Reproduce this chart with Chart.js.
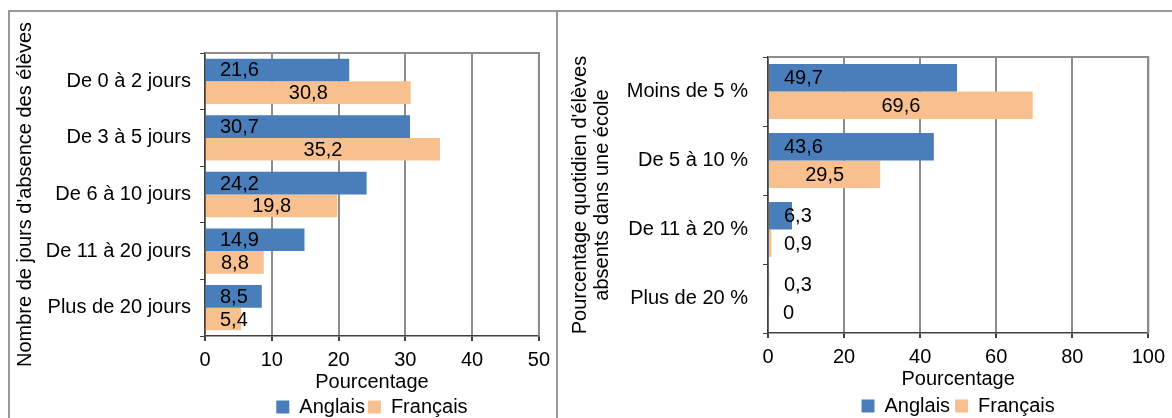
<!DOCTYPE html>
<html>
<head>
<meta charset="utf-8">
<script src="https://cdn.jsdelivr.net/npm/chart.js@4"></script>
<style>
  body { margin: 0; background: #fff; overflow: hidden; width: 1172px; height: 418px; position: relative; }
  canvas { position: absolute; top: 0; }
  #c1 { left: 0; }
  #c2 { left: 557px; }
  .frame { position: absolute; background: #999; }
</style>
</head>
<body>
<canvas id="c1" width="557" height="427"></canvas>
<canvas id="c2" width="615" height="426"></canvas>
<div class="frame" style="left:8px; top:10px; width:1164px; height:2px"></div>
<div class="frame" style="left:8px; top:10px; width:2px; height:408px"></div>
<div class="frame" style="left:556px; top:10px; width:2px; height:408px"></div>
<script>
// données
var jours = ['De 0 à 2 jours', 'De 3 à 5 jours', 'De 6 à 10 jours', 'De 11 à 20 jours', 'Plus de 20 jours'];
var anglaisJours = [21.6, 30.7, 24.2, 14.9, 8.5];
var francaisJours = [30.8, 35.2, 19.8, 8.8, 5.4];

var tranches = ['Moins de 5 %', 'De 5 à 10 %', 'De 11 à 20 %', 'Plus de 20 %'];
var anglaisEcole = [49.7, 43.6, 6.3, 0.3];
var francaisEcole = [69.6, 29.5, 0.9, 0];

var FONT = '"Liberation Sans", Arial, sans-serif';
var BLUE = '#4a7ebb';
var ORANGE = '#f9c08f';

// étiquettes de valeur (virgule décimale)
var barLabels = {
  id: 'barLabels',
  afterDatasetsDraw: function(chart, args, opts) {
    var ctx = chart.ctx;
    ctx.save();
    ctx.font = '20px ' + FONT;
    ctx.fillStyle = '#000';
    ctx.textBaseline = 'middle';
    ctx.textAlign = 'left';
    chart.data.datasets.forEach(function(ds, i) {
      chart.getDatasetMeta(i).data.forEach(function(bar, j) {
        var txt = String(ds.data[j]).replace('.', ',');
        var w = ctx.measureText(txt).width;
        var x = bar.base + opts.inset;
        if (i == 1) x = Math.max(x, (bar.base + bar.x) / 2 - w / 2);
        ctx.fillText(txt, x, bar.y + 1);
      });
    });
    ctx.restore();
  }
};

// bord haut et droit de la zone de tracé
var plotBorder = {
  id: 'plotBorder',
  afterDraw: function(chart) {
    var a = chart.chartArea, ctx = chart.ctx;
    ctx.save();
    ctx.strokeStyle = '#8c8c8c';
    ctx.lineWidth = 2;
    ctx.beginPath();
    ctx.moveTo(a.left, a.top);
    ctx.lineTo(a.right, a.top);
    ctx.lineTo(a.right, a.bottom);
    ctx.stroke();
    ctx.restore();
  }
};

function makeChart(id, labels, ang, fra, cfg) {
  return new Chart(id, {
    type: 'bar',
    data: {
      labels: labels,
      datasets: [
        { label: 'Anglais', data: ang, backgroundColor: BLUE },
        { label: 'Français', data: fra, backgroundColor: ORANGE }
      ]
    },
    options: {
      indexAxis: 'y',
      responsive: false,
      animation: false,
      categoryPercentage: 0.8,
      barPercentage: 1.0,
      layout: { padding: { left: 0, top: cfg.top, right: cfg.right, bottom: 0 } },
      plugins: {
        legend: {
          position: 'bottom',
          fullSize: false,
          labels: {
            boxWidth: 13,
            boxHeight: 13,
            padding: cfg.legendPad,
            color: '#000',
            font: { family: FONT, size: 20 }
          }
        },
        tooltip: { enabled: false },
        barLabels: { inset: cfg.inset }
      },
      scales: {
        x: {
          min: 0,
          max: cfg.max,
          ticks: { stepSize: cfg.step, color: '#000', padding: 7, font: { family: FONT, size: 20 } },
          grid: { color: '#8c8c8c', lineWidth: 2, tickColor: '#404040', tickLength: 5 },
          border: { color: '#404040', width: 1.5 },
          title: { display: true, text: 'Pourcentage', color: '#000', padding: 0, font: { family: FONT, size: 20 } },
          afterFit: function(scale) { scale.height = 58; }
        },
        y: {
          ticks: { color: '#000', padding: cfg.tickPad, font: { family: FONT, size: 20 } },
          grid: { drawOnChartArea: false, tickColor: '#404040', tickLength: 5 },
          border: { color: '#404040', width: 1.5 },
          title: {
            display: true,
            text: cfg.yTitle,
            color: '#000',
            padding: { top: cfg.titlePad, bottom: 0 },
            font: { family: FONT, size: 20, lineHeight: 1.1 }
          },
          afterFit: function(scale) { scale.width = cfg.yWidth; }
        }
      }
    },
    plugins: [barLabels, plotBorder]
  });
}

makeChart('c1', jours, anglaisJours, francaisJours, {
  top: 53, right: 13, yWidth: 205, max: 50, step: 10, legendPad: 3,
  inset: 14, tickPad: 9, titlePad: 14,
  yTitle: "Nombre de jours d'absence des élèves"
});

makeChart('c2', tranches, anglaisEcole, francaisEcole, {
  top: 57, right: 19, yWidth: 211, max: 100, step: 20, legendPad: 5,
  inset: 15, tickPad: 15, titlePad: 12,
  yTitle: ["Pourcentage quotidien d'élèves", 'absents dans une école']
});
</script>
</body>
</html>
